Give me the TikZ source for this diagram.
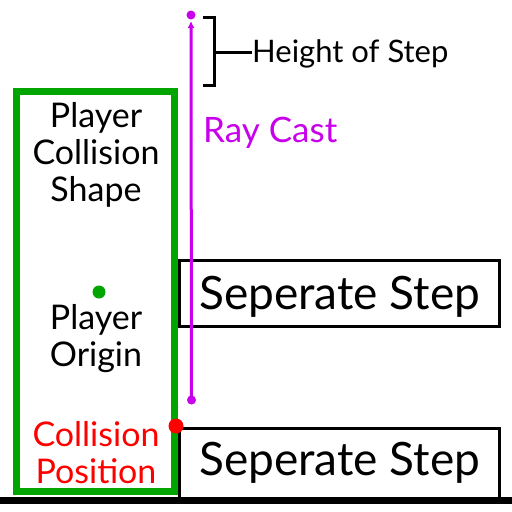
\documentclass[tikz,border=0pt]{standalone}
\usepackage{fontspec}
\setmainfont{Lato}
\usetikzlibrary{arrows.meta}
\definecolor{pgreen}{RGB}{0,165,0}
\definecolor{ppurple}{RGB}{200,0,235}
\definecolor{pred}{RGB}{255,0,0}
\tikzset{
  lbl/.style={inner sep=0pt, align=center, font=\fontsize{34}{37}\selectfont},
  biglbl/.style={inner sep=0pt, font=\fontsize{46}{50}\selectfont},
  stepbox/.style={draw=black, line width=3pt, fill=white},
}
\begin{document}
\begin{tikzpicture}[x=1pt,y=-1pt]
\useasboundingbox (0,0) rectangle (512,512);
% step boxes
\draw[stepbox] (179.5,260) rectangle (499.5,326);
\draw[stepbox] (179.5,428.5) rectangle (499.5,498);
% ground
\draw[line width=7pt] (0,500) -- (512,500);
% player shape
\draw[pgreen, line width=7pt] (16.5,91.5) rectangle (174.5,491.5);
% labels
\node[lbl] (shape) at (96,154.5) {Player\\Collision\\Shape};
\node[lbl] (origin) at (96,338.5) {Player\\Origin};
\node[lbl, text=pred] (cpos) at (96,452.5) {Collision\\Position};
\node[biglbl, anchor=west] (s1) at (199,296.5) {Seperate Step};
\node[biglbl, anchor=west] (s2) at (199,463) {Seperate Step};
% dots
\fill[pgreen] (99,292) circle (6.5);
\coordinate (cp) at (176,426);
\fill[pred] (cp) circle (7.5);
% ray cast
\coordinate (rtop) at (191,15);
\coordinate (rtip) at (191,21);
\coordinate (rbot) at (191.5,400);
\draw[ppurple, line width=3pt, -{Latex[length=7pt,width=7pt]}] (rbot) -- (rtip);
\fill[ppurple] (rtop) circle (4.5);
\fill[ppurple] (rbot) circle (4.5);
\node[lbl, text=ppurple, anchor=west, font=\fontsize{35}{37}\selectfont] (ray) at (203,132.5) {Ray Cast};
% bracket
\node[lbl, anchor=west, font=\fontsize{31}{34}\selectfont] (h) at (252,54) {Height of Step};
\coordinate (bmid) at (214,52);
\draw[line width=3pt] (203,17.5) -- (214,17.5) -- (214,85) -- (203,85);
\draw[line width=3pt] (bmid) -- (h.west |- bmid);
\end{tikzpicture}
\end{document}
